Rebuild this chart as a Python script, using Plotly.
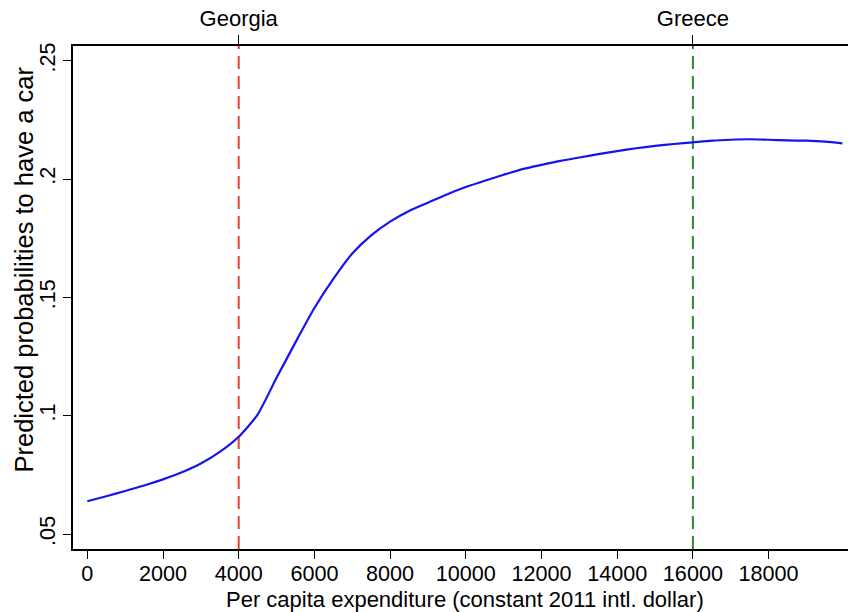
import plotly.graph_objects as go

# Data
expenditure = [0, 500, 1000, 1500, 2000, 2500, 3000, 3500, 4000, 4500, 5000, 5500,
               6000, 6500, 7000, 7500, 8000, 8500, 9000, 9500, 10000, 10500, 11000,
               11500, 12000, 12500, 13000, 13500, 14000, 14500, 15000, 15500, 16000,
               16500, 17000, 17500, 18000, 18500, 19000, 19500, 19950]
prob_car = [0.0639, 0.0660, 0.0682, 0.0705, 0.0731, 0.0761, 0.0798, 0.0847, 0.0911,
            0.1005, 0.1160, 0.1310, 0.1455, 0.1578, 0.1685, 0.1762, 0.1820, 0.1865,
            0.1900, 0.1935, 0.1966, 0.1993, 0.2018, 0.2042, 0.2060, 0.2077, 0.2091,
            0.2105, 0.2118, 0.2130, 0.2140, 0.2148, 0.2155, 0.2162, 0.2166, 0.2168,
            0.2166, 0.2163, 0.2162, 0.2158, 0.2151]
countries = ["Georgia", "Greece"]
country_x = [4000, 16000]
country_colors = ["#e8402f", "#2f8a2a"]
x_ticks = [0, 2000, 4000, 6000, 8000, 10000, 12000, 14000, 16000, 18000]
y_ticks = [0.05, 0.1, 0.15, 0.2, 0.25]
y_tick_labels = [".05", ".1", ".15", ".2", ".25"]
x_title = "Per capita expenditure (constant 2011 intl. dollar)"
y_title = "Predicted probabilities to have a car"

x_range = [-378, 20098]
y_range = [0.0437, 0.2562]

fig = go.Figure()

for name, cx, col in zip(countries, country_x, country_colors):
    fig.add_trace(go.Scatter(
        x=[cx, cx], y=y_range, mode="lines",
        line=dict(color=col, width=2, dash="13px,7px"),
        showlegend=False, hoverinfo="skip"))

fig.add_trace(go.Scatter(
    x=expenditure, y=prob_car, mode="lines",
    line=dict(color="#1414f0", width=2.2, shape="spline", smoothing=0.6),
    showlegend=False))

# dummy trace to activate top axis
fig.add_trace(go.Scatter(x=[country_x[0]], y=[prob_car[0]], xaxis="x2",
                         mode="markers", marker=dict(opacity=0),
                         showlegend=False, hoverinfo="skip"))

font_family = "Liberation Sans, Arial, Helvetica, sans-serif"
axis_common = dict(showgrid=False, zeroline=False, showline=True,
                   linecolor="black", linewidth=1.5, ticks="outside",
                   tickwidth=1.3, tickcolor="black")

fig.update_layout(
    width=848, height=612,
    margin=dict(l=73, r=0, t=46, b=63),
    paper_bgcolor="white", plot_bgcolor="white",
    font=dict(family=font_family, size=20, color="black"),
    xaxis=dict(
        range=x_range, tickvals=x_ticks, ticktext=[str(v) for v in x_ticks],
        ticklen=8, tickfont=dict(size=21.6), ticklabelstandoff=-4,
        **axis_common,
    ),
    xaxis2=dict(
        range=x_range, overlaying="x", side="top", anchor="y",
        tickvals=country_x, ticktext=countries,
        ticklen=9, tickfont=dict(size=22), **axis_common,
    ),
    yaxis=dict(
        range=y_range, tickvals=y_ticks, ticktext=y_tick_labels,
        tickangle=-90, ticklen=8, tickfont=dict(size=21.6), **axis_common,
    ),
    annotations=[
        dict(text=x_title, xref="paper", yref="paper",
             x=(465 - 73) / 775, y=-(599 - 549) / 503,
             xanchor="center", yanchor="middle", showarrow=False,
             font=dict(size=22)),
        dict(text=y_title, xref="paper", yref="paper", textangle=-90,
             x=-(73 - 23) / 775, y=(549 - 269.5) / 503,
             xanchor="center", yanchor="middle", showarrow=False,
             font=dict(size=25.5)),
    ],
)

fig.write_html("out.html")
